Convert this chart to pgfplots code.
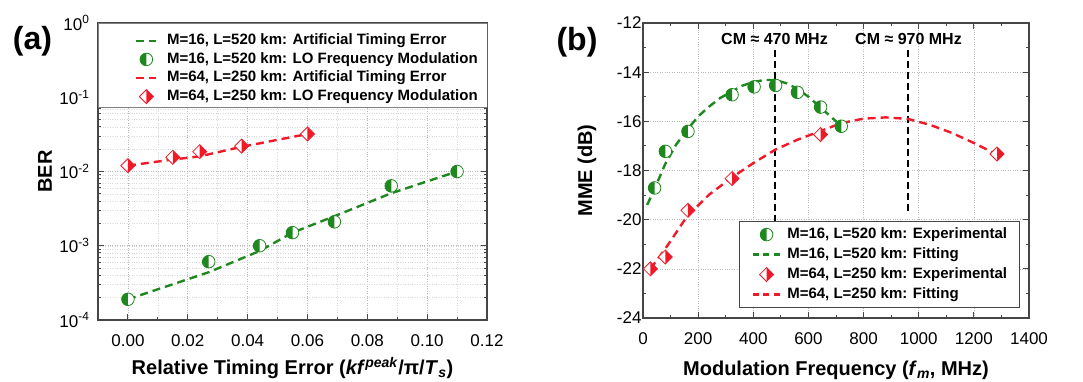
\documentclass[border=0pt]{standalone}
\usepackage{pgfplots}
\pgfplotsset{compat=1.18}
\usepackage{fontspec}
\setmainfont{Liberation Sans}
\definecolor{mygreen}{RGB}{30,135,30}
\definecolor{myred}{RGB}{240,25,40}
\definecolor{axgray}{RGB}{70,70,70}

\pgfdeclareplotmark{hcircG}{%
  \pgfpathcircle{\pgfpointorigin}{\pgfplotmarksize}%
  \pgfsetfillcolor{white}\pgfusepathqfill
  \pgfpathmoveto{\pgfqpoint{0pt}{\pgfplotmarksize}}%
  \pgfpatharc{90}{270}{\pgfplotmarksize}%
  \pgfpathclose
  \pgfsetfillcolor{mygreen}\pgfusepathqfill
  \pgfpathcircle{\pgfpointorigin}{\pgfplotmarksize}%
  \pgfusepathqstroke
}
\pgfdeclareplotmark{hdiamR}{%
  \pgfpathmoveto{\pgfqpoint{0pt}{\pgfplotmarksize}}%
  \pgfpathlineto{\pgfqpoint{\pgfplotmarksize}{0pt}}%
  \pgfpathlineto{\pgfqpoint{0pt}{-\pgfplotmarksize}}%
  \pgfpathlineto{\pgfqpoint{-\pgfplotmarksize}{0pt}}%
  \pgfpathclose
  \pgfsetfillcolor{white}\pgfusepathqfill
  \pgfpathmoveto{\pgfqpoint{0pt}{\pgfplotmarksize}}%
  \pgfpathlineto{\pgfqpoint{\pgfplotmarksize}{0pt}}%
  \pgfpathlineto{\pgfqpoint{0pt}{-\pgfplotmarksize}}%
  \pgfpathclose
  \pgfsetfillcolor{myred}\pgfusepathqfill
  \pgfpathmoveto{\pgfqpoint{0pt}{\pgfplotmarksize}}%
  \pgfpathlineto{\pgfqpoint{\pgfplotmarksize}{0pt}}%
  \pgfpathlineto{\pgfqpoint{0pt}{-\pgfplotmarksize}}%
  \pgfpathlineto{\pgfqpoint{-\pgfplotmarksize}{0pt}}%
  \pgfpathclose
  \pgfusepathqstroke
}

\pgfplotsset{
  common/.style={
    scale only axis, anchor=south west,
    axis line style={axgray, line width=1.2pt},
    tick style={axgray, line width=1pt},
    major tick length=6pt, minor tick length=3pt,
    tick align=inside,
    tick label style={font=\fontsize{17}{19}\selectfont},
    /pgf/number format/assume math mode=true,
    /pgf/number format/1000 sep={},
    major grid style={dotted, gray!55, line width=0.6pt},
    minor grid style={dotted, gray!30, line width=0.5pt},
    label style={font=\bfseries\fontsize{20}{22}\selectfont},
    legend cell align=left,
    legend style={font=\bfseries\fontsize{15}{17}\selectfont,
      nodes={inner sep=0.5pt, text height=11pt, text depth=3pt},
      column sep=5pt},
  },
  linelegend/.style={legend image code/.code={\draw[##1] (0pt,0pt) -- (#1,0pt);}},
  marklegend/.style={legend image code/.code={\draw[mark repeat=2,mark phase=2,##1] plot coordinates {(0pt,0pt) (0.5*#1,0pt) (#1,0pt)};}},
}

\begin{document}
\begin{tikzpicture}
\useasboundingbox (0,0) rectangle (1083pt,382pt);

% ---------- (a) ----------
\begin{axis}[common,
  at={(98pt,62pt)}, width=389pt, height=297pt,
  xmin=-0.01, xmax=0.12, ymode=log, ymin=1e-4, ymax=1,
  xtick={0,0.02,0.04,0.06,0.08,0.10,0.12},
  xticklabels={0.00,0.02,0.04,0.06,0.08,0.10,0.12},
  minor x tick num=1,
  ytick={1e-4,1e-3,1e-2,1e-1,1},
  yticklabels={10\textsuperscript{-4},10\textsuperscript{-3},10\textsuperscript{-2},10\textsuperscript{-1},10\textsuperscript{0}},
  xticklabel style={yshift=-11pt},
  yticklabel style={xshift=-5pt},
  grid=both,
  xlabel={Relative Timing Error (\textit{kf}\textsuperscript{\textit{peak}}/π/\textit{T}\textsubscript{\textit{s}})},
  ylabel={BER},
  xlabel style={at={(axis description cs:0.5,-0.162)}, anchor=center},
  ylabel style={at={(axis description cs:-0.136,0.5)}, anchor=center},
  legend style={at={(0.095,0.966)}, anchor=north west, draw=none, fill=none, inner sep=0pt, row sep=3.6pt, column sep=9pt},
]
\addplot[forget plot, draw=gray, line width=0.8pt, fill=white] coordinates {
 (-0.01,0.0733) (0.12,0.0733) (0.12,1) (-0.01,1) (-0.01,0.0733)};
\addplot[mygreen, line width=2.4pt, dash pattern=on 8pt off 5pt, linelegend=20pt] coordinates {
 (0,1.9e-4) (0.027,4.4e-4) (0.044,8.5e-4) (0.055,1.5e-3) (0.069,2.5e-3) (0.088,5.1e-3) (0.11,1.0e-2)};
\addlegendentry{M=16, L=520 km: Artificial Timing Error}
\addplot[only marks, mark=hcircG, mark size=6.3pt, mygreen, line width=0.8pt, marklegend=20pt] coordinates {
 (0,1.9e-4) (0.027,6.1e-4) (0.044,1.0e-3) (0.055,1.5e-3) (0.069,2.1e-3) (0.088,6.4e-3) (0.11,1.0e-2)};
\addlegendentry{M=16, L=520 km: LO Frequency Modulation}
\addplot[myred, line width=2.4pt, dash pattern=on 8pt off 5pt, linelegend=20pt] coordinates {
 (0,1.2e-2) (0.015,1.45e-2) (0.024,1.6e-2) (0.038,2.15e-2) (0.06,3.2e-2)};
\addlegendentry{M=64, L=250 km: Artificial Timing Error}
\addplot[only marks, mark=hdiamR, mark size=7pt, myred, line width=0.8pt, marklegend=20pt] coordinates {
 (0,1.2e-2) (0.015,1.55e-2) (0.024,1.85e-2) (0.038,2.2e-2) (0.06,3.2e-2)};
\addlegendentry{M=64, L=250 km: LO Frequency Modulation}
\end{axis}

% ---------- (b) ----------
\begin{axis}[common,
  at={(643pt,64pt)}, width=386pt, height=295pt,
  xmin=0, xmax=1400, ymin=-24, ymax=-12,
  xtick={0,200,...,1400}, ytick={-24,-22,...,-12},
  minor tick num=1,
  xticklabel style={yshift=-11pt},
  yticklabel style={xshift=2pt},
  grid=major,
  xlabel={Modulation Frequency (\textit{f}\textsubscript{\textit{m}}, MHz)},
  ylabel={MME (dB)},
  xlabel style={at={(axis description cs:0.5,-0.176)}, anchor=center},
  ylabel style={at={(axis description cs:-0.145,0.5)}, anchor=center},
  legend style={at={(1,0)}, anchor=south east, xshift=-9pt, yshift=10pt,
    draw=axgray, line width=0.8pt, fill=white, inner xsep=12pt, inner ysep=5.5pt, row sep=5pt},
]
\addplot[black, line width=1.8pt, dash pattern=on 7pt off 4pt, forget plot] coordinates {(478,-13.1) (478,-21.2)};
\addplot[black, line width=1.8pt, dash pattern=on 7pt off 4pt, forget plot] coordinates {(962,-13.1) (962,-19.75)};
\node[font=\bfseries\fontsize{16}{18}\selectfont] at (axis cs:477,-12.65) {CM ≈ 470 MHz};
\node[font=\bfseries\fontsize{16}{18}\selectfont] at (axis cs:963,-12.65) {CM ≈ 970 MHz};

\addplot[mygreen, line width=2.4pt, dash pattern=on 8pt off 5pt, forget plot] coordinates {
 (15,-19.4) (40,-18.8) (80,-17.75) (120,-16.95) (160,-16.35) (200,-15.8) (240,-15.4) (280,-15.05)
 (320,-14.8) (360,-14.55) (400,-14.4) (440,-14.32) (480,-14.32) (520,-14.45) (560,-14.68)
 (600,-15.0) (640,-15.4) (680,-15.8) (720,-16.2)};
\addplot[myred, line width=2.4pt, dash pattern=on 8pt off 5pt, forget plot] coordinates {
 (27,-22.0) (80,-21.2) (160,-19.86) (240,-18.98) (320,-18.3) (400,-17.7) (480,-17.15) (560,-16.75)
 (640,-16.41) (720,-16.07) (800,-15.89) (880,-15.84) (960,-15.9) (1040,-16.14) (1120,-16.47)
 (1200,-16.88) (1280,-17.33)};

\addplot[only marks, mark=hcircG, mark size=6.3pt, mygreen, line width=0.8pt, marklegend=28pt] coordinates {
 (42,-18.71) (81,-17.22) (163,-16.41) (323,-14.92) (403,-14.6) (481,-14.54) (560,-14.82) (644,-15.42) (719,-16.2)};
\addlegendentry{M=16, L=520 km: Experimental}
\addlegendimage{mygreen, line width=2.4pt, dash pattern=on 6pt off 4.5pt, linelegend=28pt}
\addlegendentry{M=16, L=520 km: Fitting}
\addplot[only marks, mark=hdiamR, mark size=7pt, myred, line width=0.8pt, marklegend=28pt] coordinates {
 (27,-22.0) (81,-21.52) (163,-19.62) (323,-18.33) (644,-16.54) (1284,-17.33)};
\addlegendentry{M=64, L=250 km: Experimental}
\addlegendimage{myred, line width=2.4pt, dash pattern=on 6pt off 4.5pt, linelegend=28pt}
\addlegendentry{M=64, L=250 km: Fitting}
\end{axis}

\node[font=\bfseries\fontsize{32}{34}\selectfont] at (32.5pt,341pt) {(a)};
\node[font=\bfseries\fontsize{32}{34}\selectfont] at (577pt,340pt) {(b)};
\end{tikzpicture}
\end{document}
